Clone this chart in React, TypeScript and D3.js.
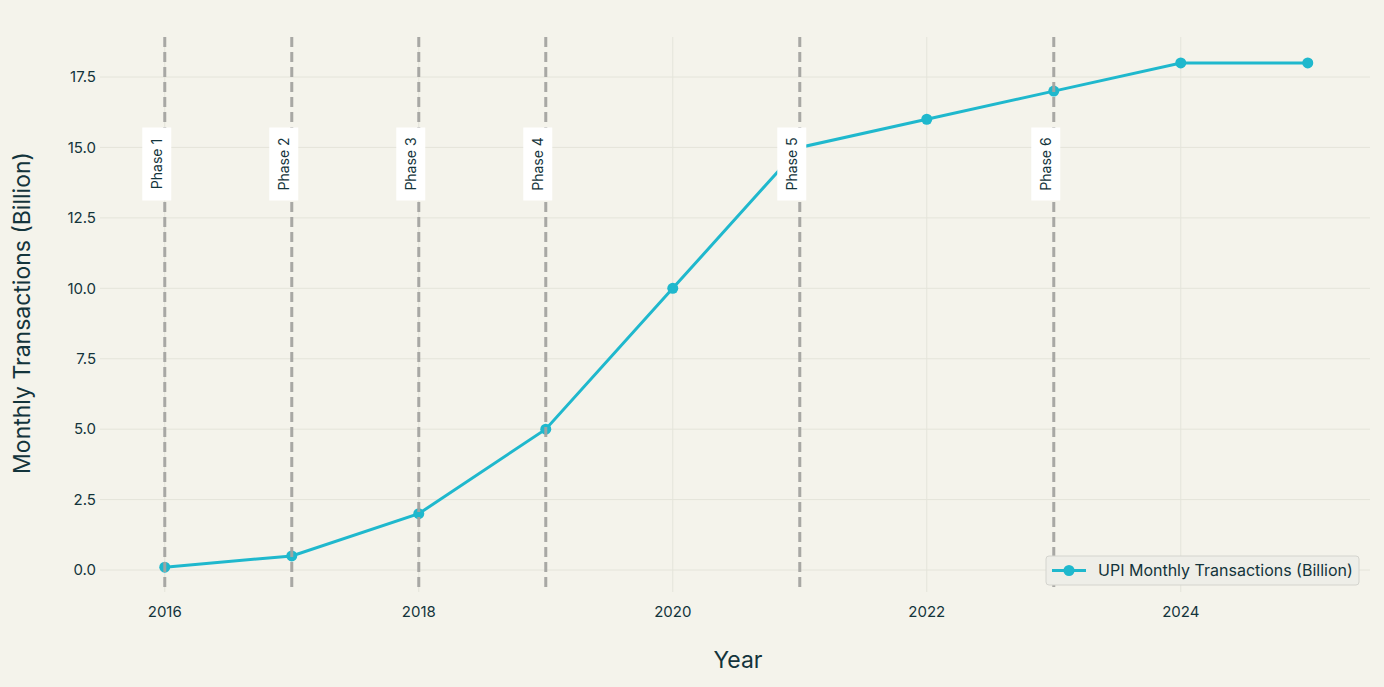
import React, { useRef, useEffect } from 'react';
import * as d3 from 'd3';

const years: number[] = [2016, 2017, 2018, 2019, 2020, 2021, 2022, 2023, 2024, 2025];
const transactions: number[] = [0.1, 0.5, 2, 5, 10, 15, 16, 17, 18, 18];
const phaseYears: number[] = [2016, 2017, 2018, 2019, 2021, 2023];
const phaseLabels: string[] = ['Phase 1', 'Phase 2', 'Phase 3', 'Phase 4', 'Phase 5', 'Phase 6'];
const xTicks: number[] = [2016, 2018, 2020, 2022, 2024];
const yTicks: number[] = [0, 2.5, 5, 7.5, 10, 12.5, 15, 17.5];
const seriesName = 'UPI Monthly Transactions (Billion)';

const W = 1384;
const H = 687;
const FONT = 'Inter, "Open Sans", sans-serif';
const TEXT = '#13343b';
const LINE = '#1fb8cd';

export default () => {
  const svgRef = useRef<SVGSVGElement>(null);

  useEffect(() => {
    document.body.style.margin = '0';
    if (!svgRef.current) return;
    const svg = d3.select(svgRef.current);
    svg.selectAll('*').remove();

    const left = 100;
    const right = 1370;
    const top = 37;
    const bottom = 592;

    const x = d3.scaleLinear().domain([2015.49, 2025.49]).range([left, right]);
    const y = d3.scaleLinear().domain([-0.78, 18.92]).range([bottom, top]);

    svg.append('rect').attr('width', W).attr('height', H).attr('fill', '#f4f3eb');

    // grid
    svg
      .append('g')
      .selectAll('line')
      .data(yTicks)
      .join('line')
      .attr('x1', left)
      .attr('x2', right)
      .attr('y1', (d) => y(d))
      .attr('y2', (d) => y(d))
      .attr('stroke', '#e4e4da')
      .attr('stroke-width', 1);
    svg
      .append('g')
      .selectAll('line')
      .data(xTicks)
      .join('line')
      .attr('x1', (d) => x(d))
      .attr('x2', (d) => x(d))
      .attr('y1', top)
      .attr('y2', bottom)
      .attr('stroke', '#e4e4da')
      .attr('stroke-width', 1);

    // tick labels
    svg
      .append('g')
      .selectAll('text')
      .data(yTicks)
      .join('text')
      .attr('x', 96)
      .attr('y', (d) => y(d))
      .attr('dy', '0.35em')
      .attr('text-anchor', 'end')
      .attr('font-family', FONT)
      .attr('font-size', 15)
      .attr('fill', TEXT)
      .text((d) => d.toFixed(1));
    svg
      .append('g')
      .selectAll('text')
      .data(xTicks)
      .join('text')
      .attr('x', (d) => x(d))
      .attr('y', 617)
      .attr('text-anchor', 'middle')
      .attr('font-family', FONT)
      .attr('font-size', 15)
      .attr('fill', TEXT)
      .text((d) => String(d));

    // axis titles
    svg
      .append('text')
      .attr('x', 738)
      .attr('y', 668)
      .attr('text-anchor', 'middle')
      .attr('font-family', FONT)
      .attr('font-size', 23)
      .attr('fill', TEXT)
      .text('Year');
    svg
      .append('text')
      .attr('transform', 'translate(30,313) rotate(-90)')
      .attr('text-anchor', 'middle')
      .attr('font-family', FONT)
      .attr('font-size', 23)
      .attr('fill', TEXT)
      .text('Monthly Transactions (Billion)');

    // data line
    const pts = years.map((yr, i) => [yr, transactions[i]] as [number, number]);
    const lineGen = d3
      .line<[number, number]>()
      .x((d) => x(d[0]))
      .y((d) => y(d[1]));
    svg
      .append('path')
      .attr('d', lineGen(pts))
      .attr('fill', 'none')
      .attr('stroke', LINE)
      .attr('stroke-width', 3);
    svg
      .append('g')
      .selectAll('circle')
      .data(pts)
      .join('circle')
      .attr('cx', (d) => x(d[0]))
      .attr('cy', (d) => y(d[1]))
      .attr('r', 5.5)
      .attr('fill', LINE);

    // phase lines, drawn above the trace
    svg
      .append('g')
      .selectAll('line')
      .data(phaseYears)
      .join('line')
      .attr('x1', (d) => x(d))
      .attr('x2', (d) => x(d))
      .attr('y1', top)
      .attr('y2', bottom)
      .attr('stroke', '#a3a3a0')
      .attr('stroke-opacity', 0.95)
      .attr('stroke-width', 3)
      .attr('stroke-dasharray', '10,5');

    // phase labels
    const labels = svg
      .append('g')
      .selectAll('g')
      .data(phaseYears)
      .join('g')
      .attr('transform', (d) => `translate(${x(d) - 8},164)`);
    labels
      .append('rect')
      .attr('x', -14.5)
      .attr('y', -36.5)
      .attr('width', 29)
      .attr('height', 73)
      .attr('fill', '#ffffff');
    labels
      .append('text')
      .attr('transform', 'rotate(-90)')
      .attr('text-anchor', 'middle')
      .attr('dy', '0.35em')
      .attr('font-family', FONT)
      .attr('font-size', 14)
      .attr('fill', TEXT)
      .text((d, i) => phaseLabels[i]);

    // legend
    const lg = svg.append('g').attr('transform', 'translate(1046,556)');
    lg.append('rect')
      .attr('width', 313)
      .attr('height', 29)
      .attr('rx', 3)
      .attr('fill', '#eeeee8')
      .attr('stroke', '#d4d4ce')
      .attr('stroke-width', 1);
    lg.append('line')
      .attr('x1', 6)
      .attr('x2', 40)
      .attr('y1', 14.5)
      .attr('y2', 14.5)
      .attr('stroke', LINE)
      .attr('stroke-width', 3);
    lg.append('circle').attr('cx', 23).attr('cy', 14.5).attr('r', 5.5).attr('fill', LINE);
    lg.append('text')
      .attr('x', 52)
      .attr('y', 14.5)
      .attr('dy', '0.35em')
      .attr('font-family', FONT)
      .attr('font-size', 16)
      .attr('fill', TEXT)
      .text(seriesName);
  }, []);

  return <svg width={W} height={H} ref={svgRef} style={{ display: 'block' }} />;
};
